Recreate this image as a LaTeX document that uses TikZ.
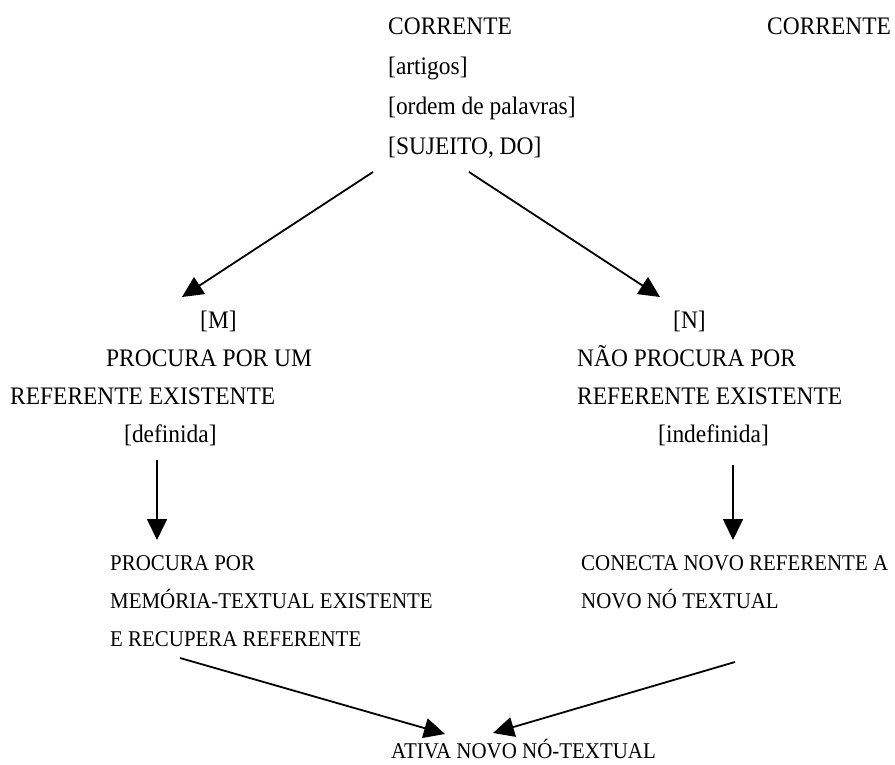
\documentclass[tikz,border=0pt]{standalone}
\usepackage{fontspec}
\setmainfont{Liberation Serif}[FakeStretch=0.93]
\usetikzlibrary{arrows.meta}
\begin{document}
\begin{tikzpicture}[x=1pt,y=-1pt,
  lbl/.style={anchor=base west,inner sep=0pt,font=\fontsize{25.2}{28}\selectfont},
  small/.style={anchor=base west,inner sep=0pt,font=\fontsize{22.5}{25}\selectfont},
  arr/.style={line width=1.8pt,-{Triangle[length=21pt,width=20pt]}}]
\useasboundingbox (0,0) rectangle (895,765);
% top block
\node[lbl] (c1) at (388,35) {CORRENTE};
\node[lbl] (c2) at (767,35) {CORRENTE};
\node[lbl] (art) at (388,75) {[artigos]};
\node[lbl] (ord) at (388,115) {[ordem de palavras]};
\node[lbl] (suj) at (388,155) {[SUJEITO, DO]};
% left middle
\node[lbl] (m) at (200,328) {[M]};
\node[lbl] (pm) at (106,366) {PROCURA POR UM};
\node[lbl] (rm) at (10,404) {REFERENTE EXISTENTE};
\node[lbl] (def) at (124,442) {[definida]};
% right middle
\node[lbl] (n) at (673,328) {[N]};
\node[lbl] (pn) at (577,366) {NÃO PROCURA POR};
\node[lbl] (rn) at (577,404) {REFERENTE EXISTENTE};
\node[lbl] (indef) at (658,442) {[indefinida]};
% lower left
\node[small] (l1) at (110,570) {PROCURA POR};
\node[small] (l2) at (110,608) {MEMÓRIA-TEXTUAL EXISTENTE};
\node[small] (l3) at (110,646) {E RECUPERA REFERENTE};
% lower right
\node[small] (r1) at (581,570) {CONECTA NOVO REFERENTE A};
\node[small] (r2) at (581,608) {NOVO NÓ TEXTUAL};
% bottom
\node[small] (at) at (391,758) {ATIVA NOVO NÓ-TEXTUAL};
% connector ends
\coordinate (s1) at (373,172);
\coordinate (e1) at (182,297);
\coordinate (s2) at (469,172);
\coordinate (e2) at (660,297);
\coordinate (s3) at (157,460);
\coordinate (e3) at (157,540);
\coordinate (s4) at (733,465);
\coordinate (e4) at (733,540);
\coordinate (s5) at (180,658);
\coordinate (e5) at (445,734);
\coordinate (s6) at (735,662);
\coordinate (e6) at (493,733);
\draw[arr] (s1) -- (e1);
\draw[arr] (s2) -- (e2);
\draw[arr] (s3) -- (e3);
\draw[arr] (s4) -- (e4);
\draw[arr] (s5) -- (e5);
\draw[arr] (s6) -- (e6);
\end{tikzpicture}
\end{document}
